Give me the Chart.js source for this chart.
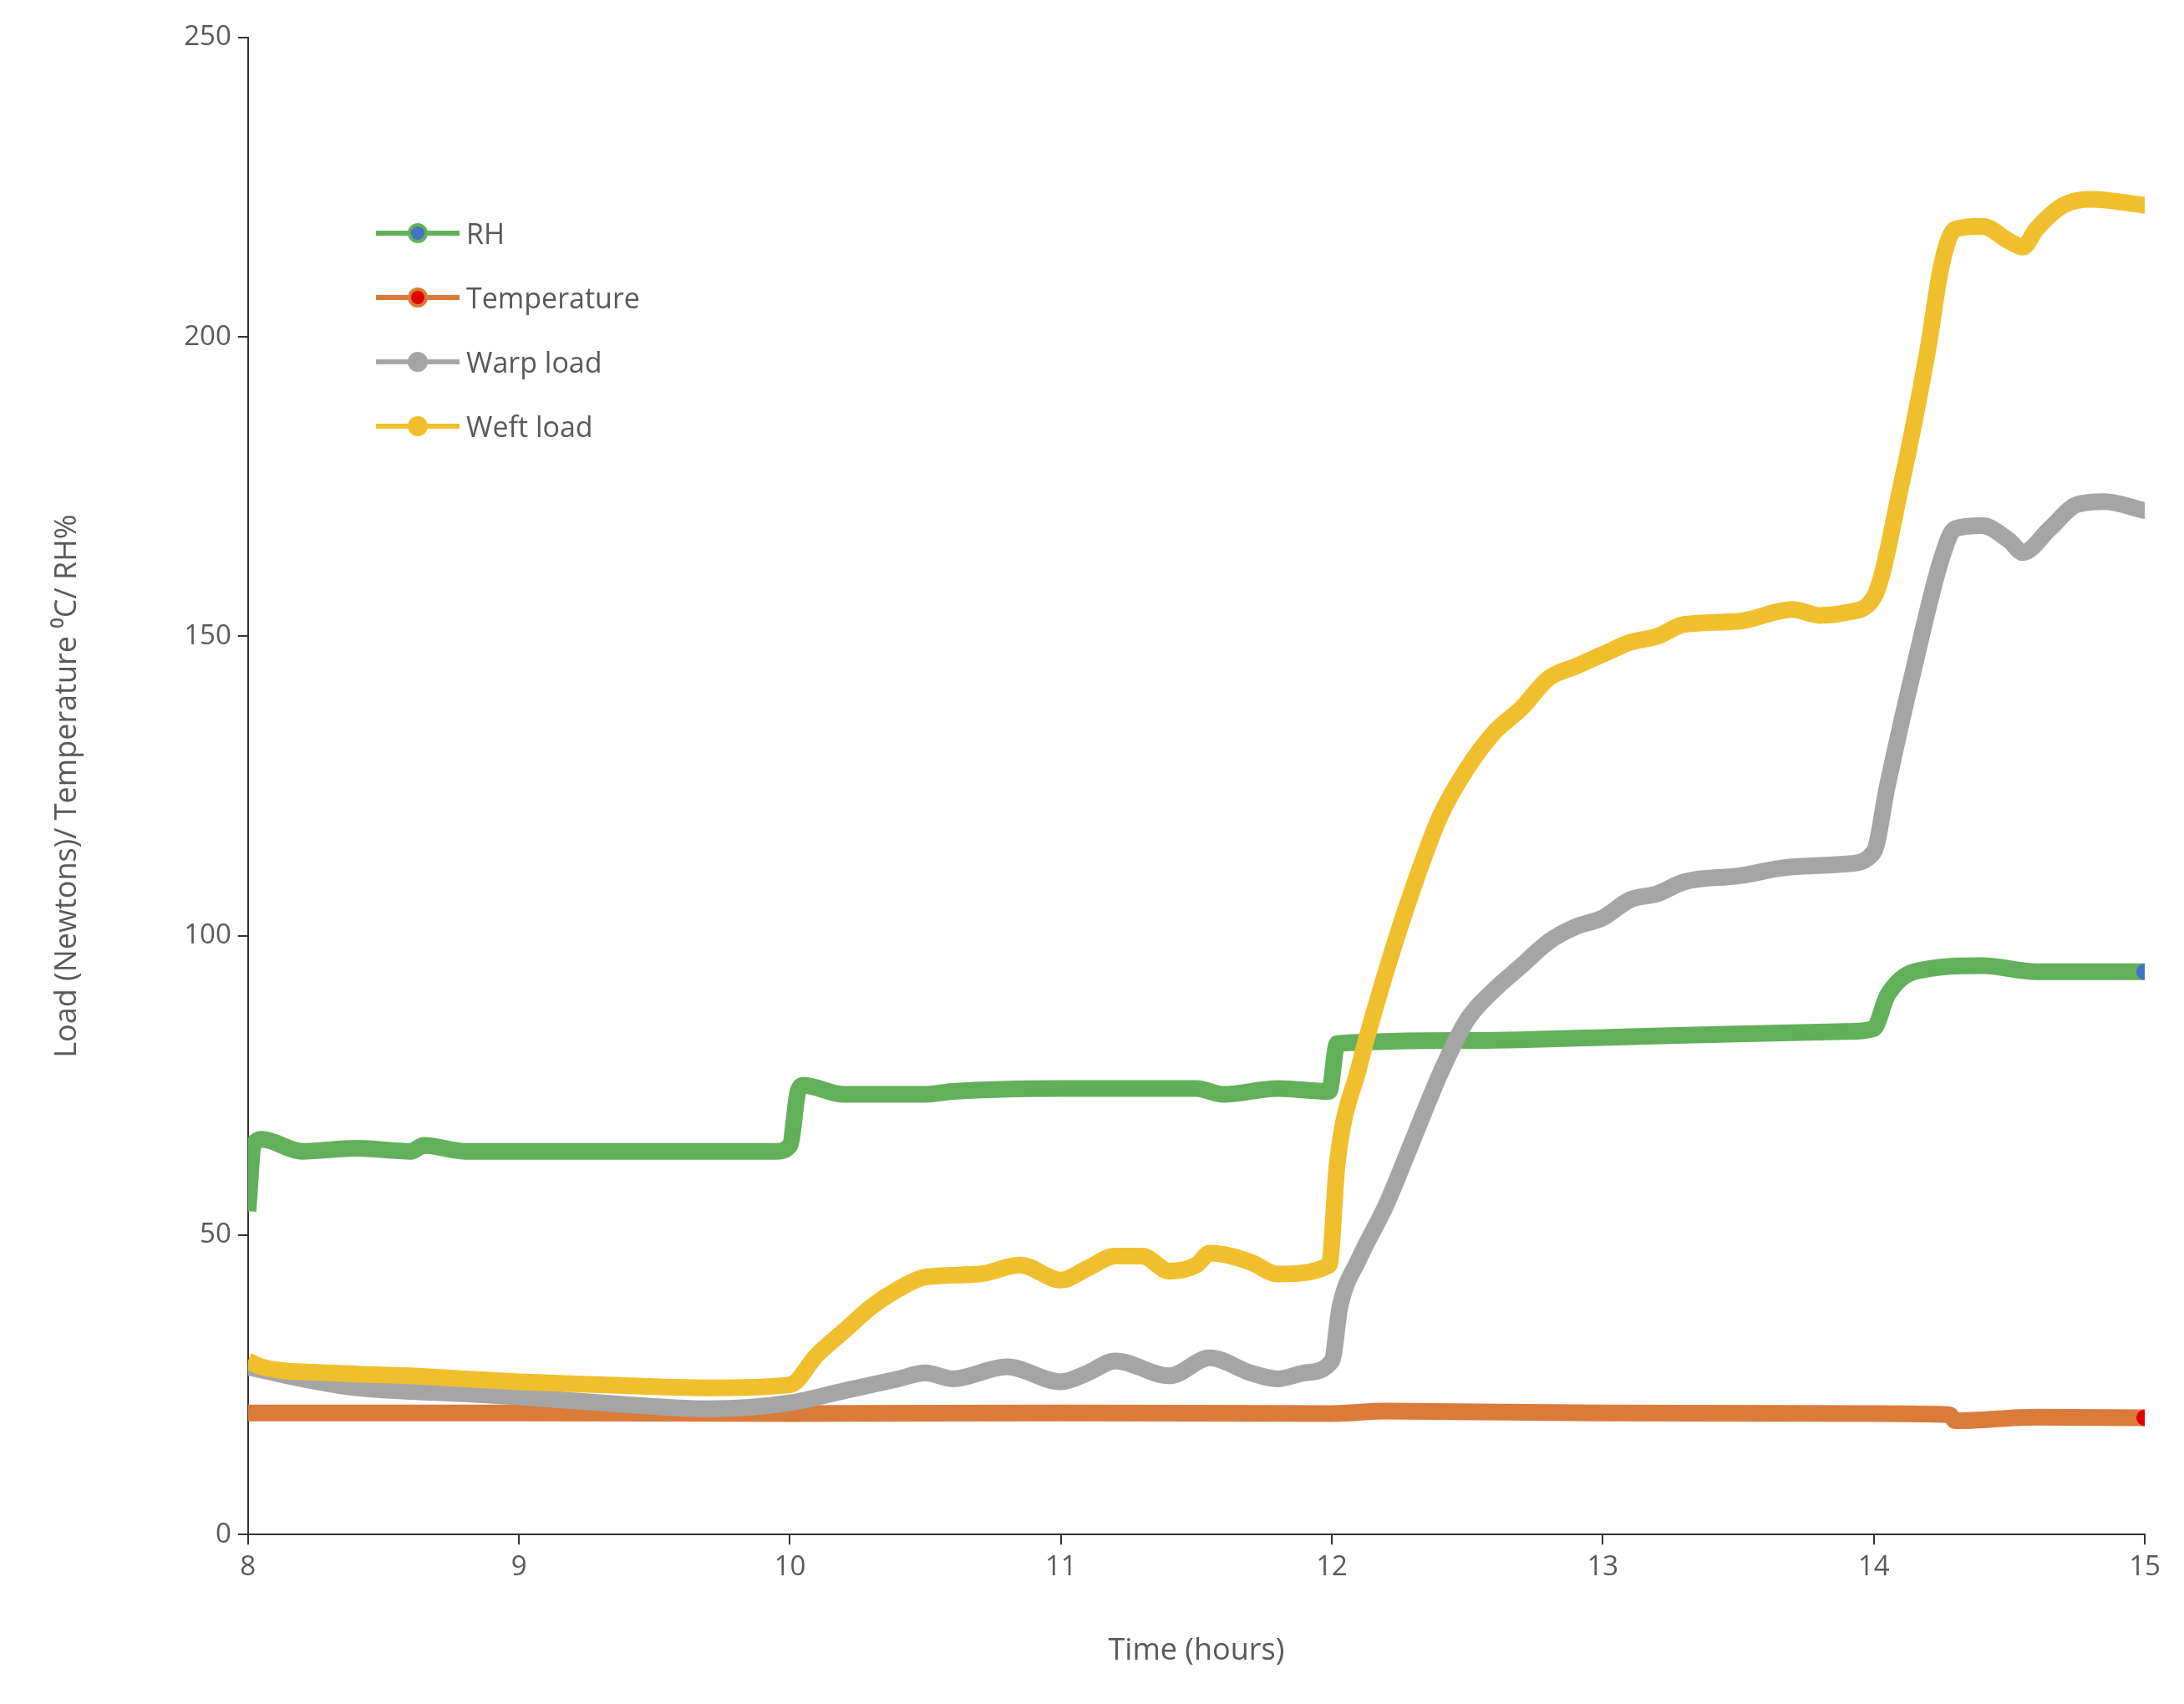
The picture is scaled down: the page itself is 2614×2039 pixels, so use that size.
<!DOCTYPE html>
<html><head><meta charset="utf-8">
<script src="https://cdn.jsdelivr.net/npm/chart.js@4.4.0/dist/chart.umd.min.js"></script>
<style>
html,body{margin:0;background:#fff;}
#wrap{position:relative;width:2614px;height:2039px;}
#legend{position:absolute;left:450px;top:240px;font:34px "Open Sans",sans-serif;color:#595959;}
.item{display:flex;align-items:center;height:77px;}
.sw{position:relative;width:100px;height:6px;margin-right:8px;}
.sw i{position:absolute;left:38px;top:-9px;width:24px;height:24px;border-radius:50%;}
</style></head><body>
<div id="wrap"><canvas id="c" width="2614" height="2039"></canvas>
<div id="legend"></div></div>
<script>
// ── Data (hours, value) ──
const rhX   = [8,8.02,8.05,8.2,8.4,8.6,8.65,8.8,9,9.5,9.95,10.0,10.03,10.05,10.2,10.5,10.6,11,11.5,11.6,11.8,11.99,12.02,12.5,13,13.4,13.9,14.0,14.05,14.15,14.4,14.6,15];
const rhY   = [54,65,66,64,64.5,64,65,64,64,64,64,65,74,75,73.5,73.5,74,74.5,74.5,73.5,74.5,74,82,82.5,83,83.5,84,84.5,90,94,95,94,94];
const tempX = [8,9,10,11,12,12.2,13,14,14.28,14.3,14.6,15];
const tempY = [20.3,20.3,20.2,20.3,20.2,20.6,20.3,20.2,20,19,19.6,19.5];
const warpX = [8,8.2,8.4,8.8,9,9.3,9.7,10,10.2,10.4,10.5,10.6,10.8,11,11.1,11.2,11.4,11.55,11.7,11.8,11.9,12.0,12.03,12.1,12.2,12.3,12.4,12.5,12.6,12.7,12.8,12.9,13,13.1,13.2,13.3,13.5,13.7,13.9,14.0,14.05,14.15,14.25,14.3,14.4,14.5,14.55,14.65,14.75,14.85,15];
const warpY = [28,26,24.5,23.5,23,22,21,22,24,26,27,26,28,25.5,27,29,26.5,29.5,27,26,27,29,38,46,55,66,77,86,91,95,99,101.5,103,106,107,109,110,111.5,112,114,125,145,163,168,168.5,166,164,168,172,172.5,171];
const weftX = [8,8.05,8.3,8.6,9,9.3,9.7,10,10.1,10.2,10.3,10.4,10.5,10.7,10.85,11,11.1,11.2,11.3,11.4,11.5,11.55,11.7,11.8,11.99,12.02,12.1,12.2,12.3,12.4,12.5,12.6,12.7,12.8,12.9,13.0,13.1,13.2,13.3,13.5,13.7,13.8,13.9,14.0,14.1,14.2,14.25,14.3,14.4,14.5,14.55,14.6,14.7,14.8,15];
const weftY = [29,28,27,26.5,25.5,25,24.5,25,30,34,38,41,43,43.5,45,42.5,44.5,46.5,46.5,44,45,47,45.5,43.5,45,62,78,94,108,120,128,134,138,143,145,147,149,150,152,152.5,154.5,153.5,154,156.5,175,198,212,218,218.5,216,215,218,222,223,222];
const xTicks = [8,9,10,11,12,13,14,15];
const yTicks = [0,50,100,150,200,250];

const SERIES = [
  { label: 'RH',          xs: rhX,   ys: rhY,   color: '#62B05A', dot: '#4472C4' },
  { label: 'Temperature', xs: tempX, ys: tempY, color: '#DA7B3A', dot: '#E00000' },
  { label: 'Warp load',   xs: warpX, ys: warpY, color: '#A5A5A5', dot: '#A5A5A5' },
  { label: 'Weft load',   xs: weftX, ys: weftY, color: '#F0BF2E', dot: '#F0BF2E' },
];

const font = { family: '"Open Sans", sans-serif', size: 33 };
const tickCol = '#595959';

new Chart(document.getElementById('c'), {
  type: 'line',
  data: {
    datasets: SERIES.map(s => ({
      label: s.label,
      data: s.xs.map((x, i) => ({ x, y: s.ys[i] })),
      borderColor: s.color, borderWidth: 20, tension: 0.3,
      cubicInterpolationMode: 'monotone',
      pointRadius: s.xs.map((x, i) => i === s.xs.length - 1 ? 10 : 0),
      pointBackgroundColor: s.dot, pointBorderWidth: 0,
    })).reverse()
  },
  options: {
    responsive: false, animation: false,
    layout: { padding: { left: 55, right: 47, top: 45, bottom: 38 } },
    plugins: { legend: { display: false }, tooltip: { enabled: false } },
    scales: {
      x: { type: 'linear', min: 8, max: 15,
           afterBuildTicks: a => { a.ticks = xTicks.map(v => ({ value: v })); },
           ticks: { font, color: tickCol, padding: 8 },
           grid: { drawOnChartArea: false, color: '#333', tickLength: 12, lineWidth: 2 },
           border: { color: '#333', width: 2 },
           title: { display: true, text: 'Time (hours)', font: { ...font, size: 36 }, color: tickCol, padding: { top: 50 } } },
      y: { min: 0, max: 250,
           afterBuildTicks: a => { a.ticks = yTicks.map(v => ({ value: v })); },
           ticks: { font, color: tickCol, padding: 8 },
           grid: { drawOnChartArea: false, color: '#333', tickLength: 12, lineWidth: 2 },
           border: { color: '#333', width: 2 },
           title: { display: true, text: 'Load (Newtons)/ Temperature \u2070C/ RH%', font: { ...font, size: 36 }, color: tickCol, padding: { bottom: 110 } } }
    }
  }
});

document.getElementById('legend').innerHTML = SERIES.map(s =>
  `<div class="item"><div class="sw" style="background:${s.color}"><i style="background:${s.dot};border:4px solid ${s.color};box-sizing:border-box"></i></div>${s.label}</div>`).join('');
</script>
</body></html>
